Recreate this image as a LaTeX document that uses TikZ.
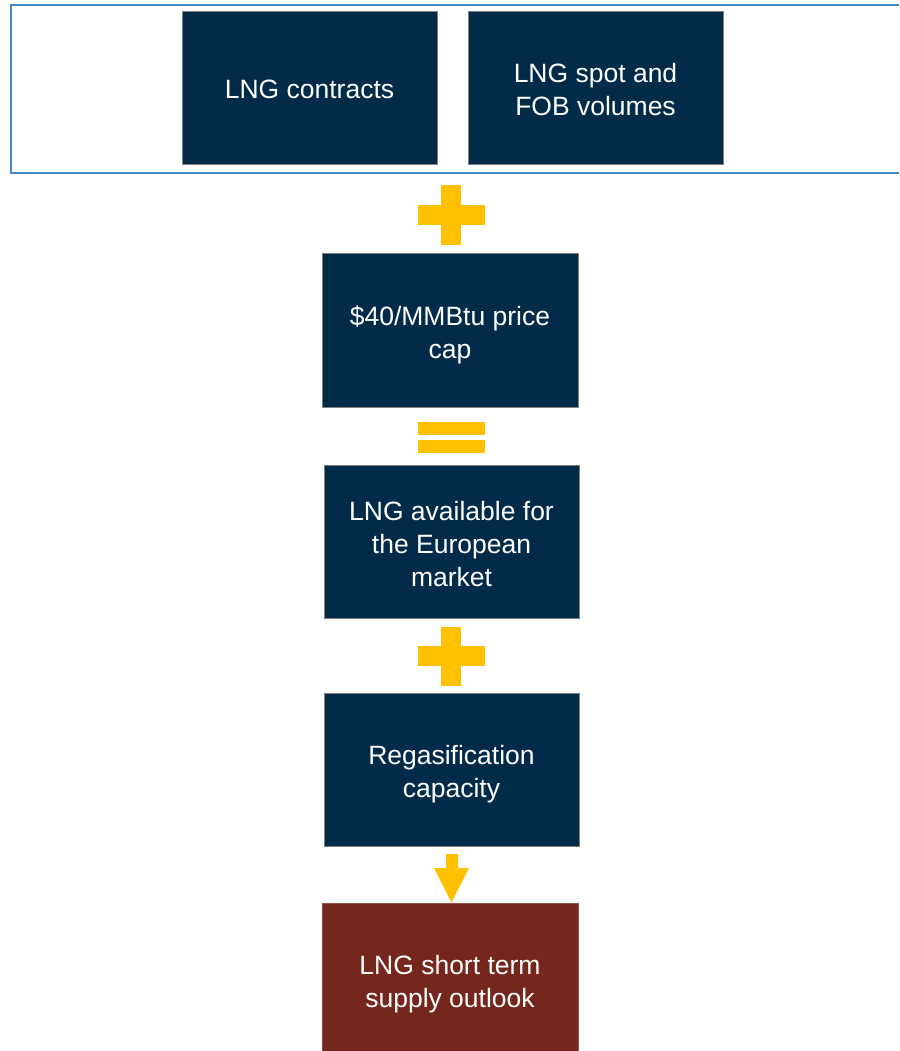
\documentclass[tikz,border=0pt]{standalone}
\usepackage{fontspec}
\setmainfont{Liberation Sans}
\definecolor{navy}{HTML}{012B49}
\definecolor{brownbox}{HTML}{76271D}
\definecolor{gold}{HTML}{FFC000}
\definecolor{frameblue}{HTML}{4A88C6}
\definecolor{boxedge}{HTML}{7F7F7F}
\begin{document}
\begin{tikzpicture}[x=1pt,y=1pt,
  box/.style={draw=boxedge, line width=1pt, fill=navy,
    minimum width=255pt, minimum height=153pt, inner sep=0pt},
  outbox/.style={box, fill=brownbox, draw=brownbox!80!white, minimum height=160pt},
  boxtext/.style={text=white, align=center, inner sep=0pt,
    font=\fontsize{26.5}{33}\selectfont},
  sym/.style={fill=gold, draw=none}]
\useasboundingbox (0,0) rectangle (899,-1051);
\fill[white] (0,0) rectangle (899,-1051);
% frame
\draw[frameblue, line width=1.5pt] (899,-5) -- (11,-5) -- (11,-173) -- (899,-173);
% boxes
\node[box] (contracts) at (309.5,-88) {};
\node[box] (spot) at (595.5,-88) {};
\node[box, minimum width=256pt, minimum height=154pt] (cap) at (450,-330) {};
\node[box] (avail) at (451.5,-541.5) {};
\node[box] (regas) at (451.5,-769.5) {};
\node[outbox, minimum width=256pt] (outlook) at (450,-983) {};
% texts
\node[boxtext] (contractsT) at ([yshift=-1.5pt]contracts.center) {LNG contracts};
\node[boxtext] (spotT) at ([yshift=-1.5pt]spot.center) {LNG spot and\\FOB volumes};
\node[boxtext] (capT) at ([yshift=-5pt]cap.center) {\$40/MMBtu price\\cap};
\node[boxtext] (availT) at ([yshift=-2.5pt]avail.center) {LNG available for\\the European\\market};
\node[boxtext] (regasT) at ([yshift=-4.5pt]regas.center) {Regasification\\capacity};
\node[boxtext] (outlookT) at ([yshift=-1pt]outlook.center) {LNG short term\\supply outlook};
% plus 1
\fill[sym] (441,-185) rectangle (461,-245);
\fill[sym] (418,-205) rectangle (485,-225);
% equals
\fill[sym] (418,-422) rectangle (485,-435);
\fill[sym] (418,-440) rectangle (485,-453);
% plus 2
\fill[sym] (441,-627) rectangle (461,-686);
\fill[sym] (418,-646) rectangle (485,-666);
% arrow
\coordinate (tip) at (outlook.north -| 451.5,0);
\fill[sym] (446,-854) -- (458,-854) -- (458,-868) -- (469,-868) -- (tip) -- (434,-868) -- (446,-868) -- cycle;
\end{tikzpicture}
\end{document}
